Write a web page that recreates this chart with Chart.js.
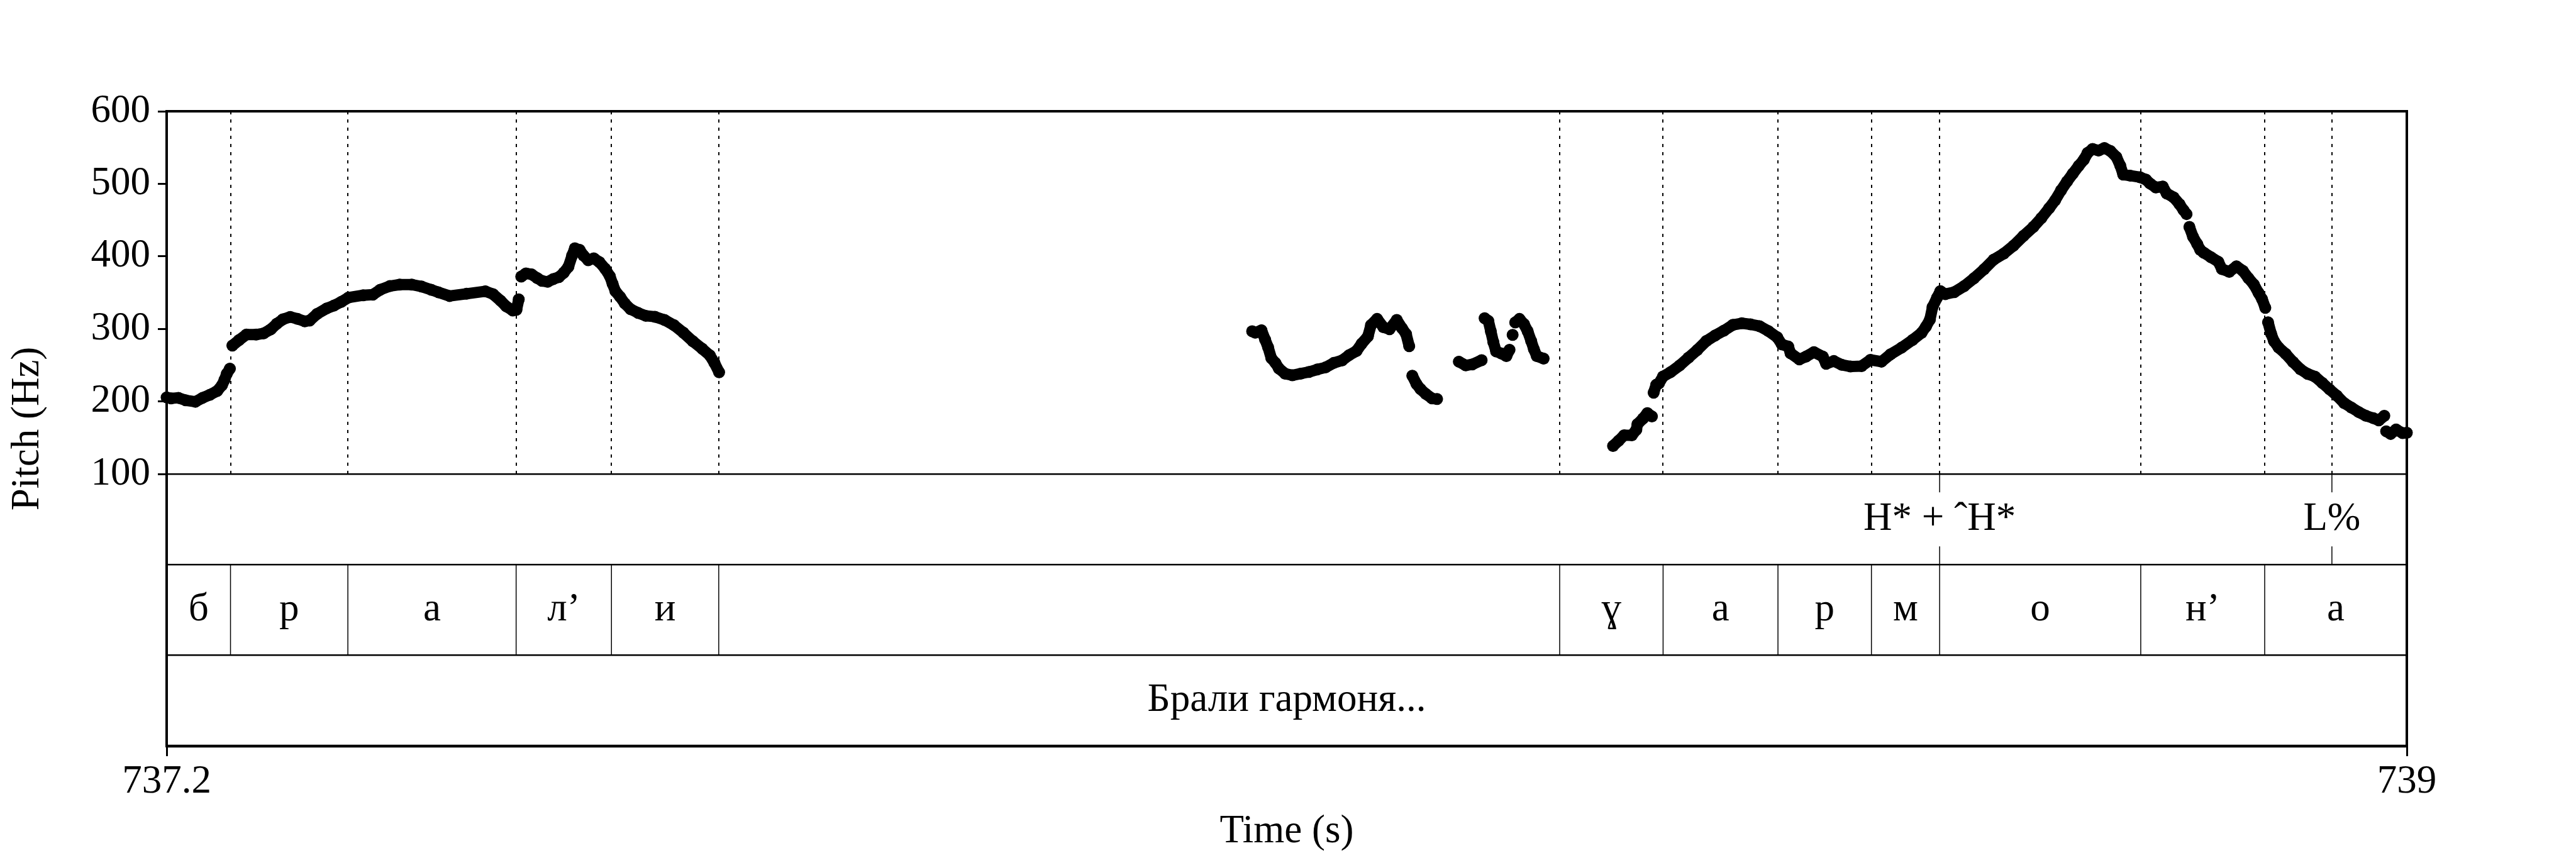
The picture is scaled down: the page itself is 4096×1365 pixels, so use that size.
<!DOCTYPE html>
<html>
<head>
<meta charset="utf-8">
<script src="https://cdn.jsdelivr.net/npm/chart.js@4/dist/chart.umd.min.js"></script>
<style>
html,body{margin:0;padding:0;background:#fff;}
canvas{display:block;}
</style>
</head>
<body>
<canvas id="c" width="4096" height="1365" style="width:4096px;height:1365px"></canvas>
<script>
// ---- axis ranges and ticks ----
const timeMin = 737.2, timeMax = 739;
const timeTickValues = [737.2, 739];
const pitchMin = 100, pitchMax = 600, pitchStep = 100;

// ---- pitch track (s, Hz); null = unvoiced break ----
const times = [
737.2000,737.2035,737.2094,737.2152,737.2231,737.2289,737.2348,737.2406,737.2445,737.2465,737.2482,737.2508,
737.2518,
737.2528,737.2582,737.2641,737.2719,737.2778,737.2837,737.2885,737.2934,737.2993,737.3051,737.3110,737.3149,
737.3208,737.3286,737.3345,737.3403,737.3462,737.3579,737.3657,737.3716,737.3794,737.3872,737.3970,737.4048,
737.4126,737.4183,737.4273,737.4410,737.4561,737.4622,737.4683,737.4728,737.4781,737.4811,737.4829,
737.4839,
737.4849,737.4887,737.4932,737.4978,737.5015,737.5061,737.5106,737.5152,737.5190,737.5228,737.5258,737.5280,
737.5318,737.5349,737.5387,737.5432,737.5477,737.5523,737.5561,737.5583,737.5606,737.5644,737.5682,737.5727,
737.5788,737.5849,737.5924,737.6000,737.6076,737.6152,737.6227,737.6303,737.6364,737.6401,737.6439,
737.9000,
738.0722,738.0747,738.0797,738.0826,738.0850,738.0876,738.0909,738.0937,738.0987,738.1045,738.1112,738.1178,
738.1245,738.1311,738.1378,738.1444,738.1502,738.1561,738.1602,738.1652,738.1677,738.1726,738.1776,738.1826,
738.1884,738.1926,738.1959,738.1984,
738.1996,
738.2009,738.2042,738.2075,738.2117,738.2167,738.2208,
738.2300,
738.2383,738.2438,738.2491,738.2566,
738.2578,
738.2590,738.2620,738.2640,738.2660,738.2682,738.2723,738.2765,738.2790,
738.2802,
738.2815,
738.2825,
738.2836,738.2870,738.2906,738.2936,738.2964,738.2986,738.3009,738.3064,
738.3300,
738.3622,738.3666,738.3711,738.3773,738.3809,738.3818,738.3862,738.3898,738.3934,
738.3941,
738.3948,738.3969,738.3990,738.4023,738.4085,738.4157,738.4228,738.4299,738.4371,738.4442,738.4513,738.4585,
738.4656,738.4727,738.4799,738.4870,738.4941,738.4977,738.5030,738.5048,738.5119,738.5173,738.5236,738.5307,
738.5334,738.5396,738.5459,738.5530,738.5619,738.5690,738.5779,738.5851,738.5940,738.6029,738.6101,738.6136,
738.6168,738.6189,738.6225,738.6252,738.6292,738.6364,738.6443,738.6522,738.6602,738.6681,738.6761,738.6840,
738.6920,738.6999,738.7063,738.7126,738.7174,738.7221,738.7269,738.7316,738.7364,738.7404,738.7435,738.7475,
738.7523,738.7570,738.7618,738.7666,738.7698,738.7721,738.7777,738.7856,738.7904,738.7936,738.7983,738.8039,
738.8070,738.8126,738.8174,738.8206,738.8230,
738.8241,
738.8253,738.8282,738.8316,738.8340,738.8368,738.8426,738.8485,738.8514,738.8573,738.8631,738.8683,738.8727,
738.8771,738.8808,738.8837,738.8863,
738.8874,
738.8885,738.8910,738.8932,738.8969,738.9027,738.9086,738.9145,738.9203,738.9262,738.9321,738.9379,738.9438,
738.9496,738.9555,738.9614,738.9672,738.9731,738.9775,738.9819,
738.9826,
738.9834,738.9870,738.9914,738.9966,739.0000
];
const pitchHz = [
205.8,204.5,205.2,201.8,199.8,205.2,209.5,214.6,222.6,230.0,238.0,245.3,
null,
277.2,284.8,292.3,292.3,293.9,299.6,307.3,313.3,316.7,314.0,310.6,311.7,
320.7,328.4,332.4,337.4,343.4,346.5,347.4,354.1,359.2,361.2,361.2,358.5,
354.1,350.7,345.5,348.6,352.0,348.1,339.0,331.2,325.5,326.6,340.8,
null,
372.2,376.6,375.3,370.1,366.3,365.0,368.8,371.5,377.4,385.7,401.3,411.2,
409.0,401.3,394.8,397.4,392.2,383.1,372.8,362.3,352.0,344.2,335.1,327.4,
322.2,318.2,316.9,312.5,305.3,294.9,283.2,272.8,263.8,253.4,240.4,
null,
296.9,294.9,298.3,285.4,274.9,259.8,253.3,245.6,238.5,236.2,238.5,240.8,
244.2,247.0,253.3,256.7,264.1,269.8,279.8,289.7,305.4,313.9,302.6,299.7,
312.5,301.1,293.1,276.4,
null,
235.7,224.3,217.2,210.6,204.4,203.5,
null,
255.0,249.9,251.3,257.0,
null,
314.8,311.1,296.9,282.0,269.2,266.4,262.7,271.3,
null,
292.0,
null,
309.1,313.9,306.8,296.9,283.5,272.1,262.7,259.3,
null,
138.9,145.9,153.6,153.6,161.2,168.9,176.5,184.1,179.6,
null,
212.3,223.2,225.0,234.5,240.7,249.8,260.5,271.2,283.4,291.1,297.8,305.7,
307.9,306.4,303.9,297.2,288.6,278.9,275.8,266.6,258.1,262.1,268.2,262.1,
252.0,255.9,250.7,248.3,248.9,257.5,255.0,265.1,274.3,285.0,294.8,303.3,
313.0,330.2,343.0,352.2,348.1,350.8,359.0,369.9,382.1,395.7,403.9,414.8,
428.3,440.6,452.8,466.4,477.3,490.9,503.1,514.0,524.9,533.1,542.6,548.0,
545.9,549.4,545.3,537.1,524.9,512.7,511.3,509.1,505.8,500.5,495.0,496.3,
486.8,481.4,471.9,463.7,458.3,
null,
440.6,427.0,417.0,409.0,405.2,398.9,392.7,382.6,378.8,386.4,380.1,370.1,
361.3,349.9,341.1,329.1,
null,
309.3,293.4,283.4,274.6,265.8,254.5,244.5,238.2,234.4,225.7,216.9,208.1,
198.0,191.7,185.5,180.4,177.2,174.1,180.4,
null,
159.1,155.4,161.6,156.6,157.0
];

// ---- TextGrid tiers ----
const toneTimes = [738.6246, 738.9398];
const toneLabels = ['H* + ˆH*', 'L%'];
const phoneBounds = [737.2, 737.2513, 737.3456, 737.4808, 737.5574, 737.6436, 738.3193,
                     738.4024, 738.4947, 738.5698, 738.6246, 738.7862, 738.8858, 739.0];
const phoneLabels = ['б', 'р', 'а', 'л’', 'и', '', 'ɣ', 'а', 'р', 'м', 'о', 'н’', 'а'];
const wordBounds = [737.2, 739.0];
const wordLabels = ['Брали гармоня...'];

const FONT = '"Liberation Serif", "Times New Roman", "DejaVu Serif", serif';
const FS = 63;
const AXIS_W = 265;

const tierPlugin = {
  id: 'tiers',
  beforeDatasetsDraw(chart) {
    const {ctx, scales: {x, y}} = chart;
    ctx.save();
    ctx.strokeStyle = '#000';
    ctx.lineWidth = 2;
    ctx.setLineDash([5, 8]);
    const dotted = phoneBounds.slice(1, -1).concat(toneTimes);
    for (const t of dotted) {
      const px = Math.round(x.getPixelForValue(t));
      ctx.beginPath();
      ctx.moveTo(px, y.top);
      ctx.lineTo(px, y.bottom);
      ctx.stroke();
    }
    ctx.restore();
  },
  afterDatasetsDraw(chart) {
    const {ctx, chartArea: ca, scales: {x, y, yTone, yPhone, yWord}} = chart;
    ctx.save();
    ctx.strokeStyle = '#000';
    ctx.fillStyle = '#000';
    ctx.setLineDash([]);
    // tier separators
    ctx.lineWidth = 2.5;
    for (const yy of [y.bottom, yTone.bottom, yPhone.bottom]) {
      ctx.beginPath(); ctx.moveTo(ca.left, yy); ctx.lineTo(ca.right, yy); ctx.stroke();
    }
    // phone interval boundaries
    ctx.lineWidth = 1.5;
    for (const t of phoneBounds.slice(1, -1)) {
      const px = x.getPixelForValue(t);
      ctx.beginPath(); ctx.moveTo(px, yPhone.top); ctx.lineTo(px, yPhone.bottom); ctx.stroke();
    }
    ctx.font = FS + 'px ' + FONT;
    ctx.textAlign = 'center';
    ctx.textBaseline = 'middle';
    // phone labels
    for (let i = 0; i < phoneLabels.length; i++) {
      if (!phoneLabels[i]) continue;
      const cx = (x.getPixelForValue(phoneBounds[i]) + x.getPixelForValue(phoneBounds[i + 1])) / 2;
      ctx.fillText(phoneLabels[i], cx, (yPhone.top + yPhone.bottom) / 2);
    }
    // word labels
    for (let i = 0; i < wordLabels.length; i++) {
      const cx = (x.getPixelForValue(wordBounds[i]) + x.getPixelForValue(wordBounds[i + 1])) / 2;
      ctx.fillText(wordLabels[i], cx, (yWord.top + yWord.bottom) / 2);
    }
    // tone points
    const tMid = (yTone.top + yTone.bottom) / 2;
    const tickLen = 29;
    for (let i = 0; i < toneTimes.length; i++) {
      const px = x.getPixelForValue(toneTimes[i]);
      ctx.lineWidth = 1.5;
      ctx.beginPath(); ctx.moveTo(px, yTone.top); ctx.lineTo(px, yTone.top + tickLen); ctx.stroke();
      ctx.beginPath(); ctx.moveTo(px, yTone.bottom - tickLen); ctx.lineTo(px, yTone.bottom); ctx.stroke();
      ctx.fillText(toneLabels[i], px, tMid);
    }
    // outer frame
    ctx.lineWidth = 4;
    ctx.strokeRect(ca.left, ca.top, ca.right - ca.left, ca.bottom - ca.top);
    ctx.lineWidth = 4.5;
    ctx.beginPath(); ctx.moveTo(ca.left, ca.bottom); ctx.lineTo(ca.right, ca.bottom); ctx.stroke();
    // y title
    ctx.save();
    ctx.translate(44, (ca.top + ca.bottom) / 2);
    ctx.rotate(-Math.PI / 2);
    ctx.fillText('Pitch (Hz)', 0, 0);
    ctx.restore();
    ctx.restore();
  }
};

Chart.defaults.font.family = FONT;
Chart.defaults.font.size = FS;
Chart.defaults.color = '#000';

const tierAxis = (w, order) => ({
  type: 'linear', position: 'left', stack: 'frame', stackWeight: w, weight: order,
  min: 0, max: 1,
  ticks: {display: false}, grid: {display: false}, border: {display: false},
  afterFit: s => { s.width = AXIS_W; }
});

new Chart(document.getElementById('c'), {
  type: 'line',
  data: {
    datasets: [{
      data: times.map((t, i) => ({x: t, y: pitchHz[i]})),
      xAxisID: 'x', yAxisID: 'y',
      showLine: true,
      spanGaps: false,
      borderColor: '#000',
      borderWidth: 18,
      borderCapStyle: 'round',
      borderJoinStyle: 'round',
      tension: 0,
      pointRadius: 9.5,
      pointBackgroundColor: '#000',
      pointBorderWidth: 0,
      clip: false
    }]
  },
  options: {
    responsive: false,
    animation: false,
    devicePixelRatio: 1,
    layout: {padding: {top: 177, left: 0, right: 269, bottom: 0}},
    plugins: {legend: {display: false}, tooltip: {enabled: false}},
    scales: {
      x: {
        type: 'linear', position: 'bottom', min: timeMin, max: timeMax,
        afterBuildTicks: s => { s.ticks = timeTickValues.map(v => ({value: v})); },
        ticks: {padding: 4, maxRotation: 0, autoSkip: false, callback: v => String(+v.toFixed(1)), font: {size: FS}},
        grid: {drawOnChartArea: false, drawTicks: true, tickLength: 16, color: '#000', lineWidth: 3},
        border: {display: false},
        title: {display: true, text: 'Time (s)', padding: {top: 0, bottom: 4}, font: {size: FS}},
        afterFit: s => { s.height = 178; }
      },
      y: {
        type: 'linear', position: 'left', stack: 'frame', stackWeight: 577.6, weight: 4,
        min: pitchMin, max: pitchMax,
        ticks: {stepSize: pitchStep, autoSkip: false, padding: 12, font: {size: FS}},
        grid: {drawOnChartArea: false, drawTicks: true, tickLength: 14, color: '#000', lineWidth: 3},
        border: {display: false},
        afterFit: s => { s.width = AXIS_W; }
      },
      yTone: tierAxis(144, 3),
      yPhone: tierAxis(144.1, 2),
      yWord: tierAxis(144.7, 1)
    }
  },
  plugins: [tierPlugin]
});
</script>
</body>
</html>
